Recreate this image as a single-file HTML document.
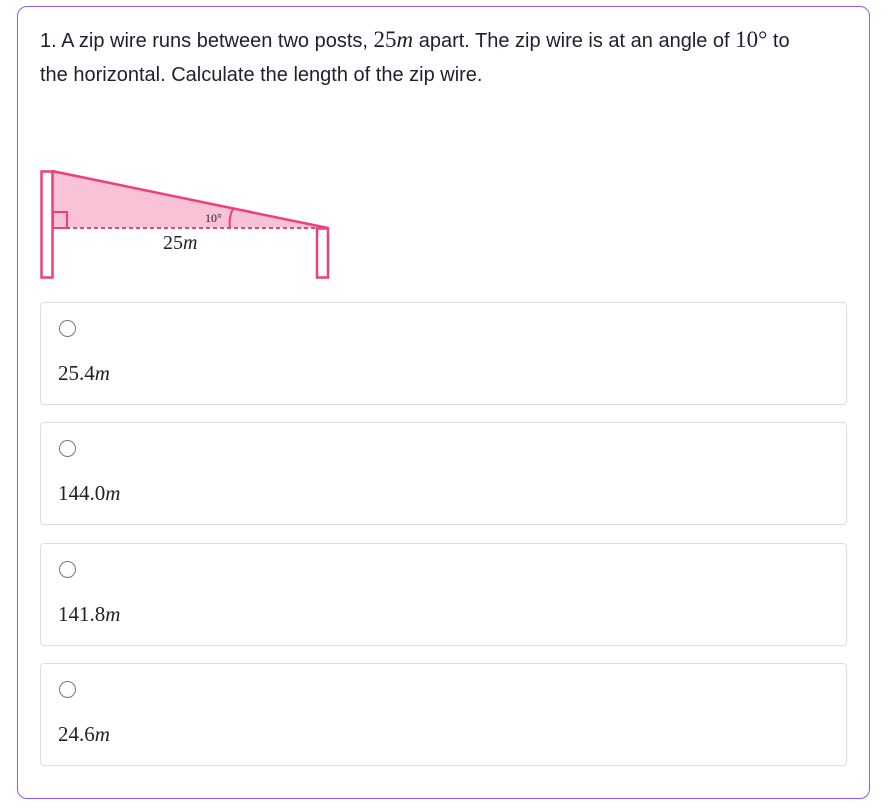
<!DOCTYPE html>
<html><head><meta charset="utf-8"><style>
body{margin:0;background:#fff;font-family:"Liberation Sans",sans-serif;}
.card{position:absolute;left:17px;top:6px;width:853px;height:793px;border:1px solid #8b5cf6;border-radius:10px;box-sizing:border-box;}
.q{position:absolute;left:40px;top:23px;width:770px;font-size:20px;line-height:34px;color:#1f1f2e;}
.m{font-family:"Liberation Serif",serif;font-size:23px;}
.opt{position:absolute;left:40px;width:807px;height:103px;border:1px solid #dedede;border-radius:4px;box-sizing:border-box;}
.radio{position:absolute;left:18px;top:17px;width:15px;height:15px;border:1.5px solid #777;border-radius:50%;}
.val{position:absolute;left:17px;top:58px;font-family:"Liberation Serif",serif;font-size:21px;color:#222;}
</style></head><body>
<div class="card"></div>
<div class="q">1. A zip wire runs between two posts, <span class="m">25<i>m</i></span> apart. The zip wire is at an angle of <span class="m">10°</span> to the horizontal. Calculate the length of the zip wire.</div>
<svg width="889" height="811" style="position:absolute;left:0;top:0">
<polygon points="52,171 328,228 52,228" fill="#f9c2d6"/>
<rect x="41.5" y="171.5" width="11" height="106" fill="#fff" stroke="#ec407a" stroke-width="2.5"/>
<rect x="317" y="228.5" width="11" height="49" fill="#fff" stroke="#ec407a" stroke-width="2.5"/>
<line x1="52" y1="171" x2="328" y2="228" stroke="#ec407a" stroke-width="2.5"/>
<line x1="52" y1="228" x2="317" y2="228" stroke="#ec407a" stroke-width="2" stroke-dasharray="4,3"/>
<rect x="53" y="212" width="14" height="16" fill="none" stroke="#ec407a" stroke-width="2"/>
<path d="M230,228 A10 18 0 0 1 234,208" fill="none" stroke="#ec407a" stroke-width="2"/>
<text x="205" y="222" font-family="Liberation Serif" font-size="12" fill="#222">10°</text>
<text x="163" y="249" font-family="Liberation Serif" font-size="20" fill="#222">25<tspan font-style="italic">m</tspan></text>
</svg>
<div class="opt" style="top:302px"><div class="radio"></div><div class="val">25.4<i>m</i></div></div>
<div class="opt" style="top:422px"><div class="radio"></div><div class="val">144.0<i>m</i></div></div>
<div class="opt" style="top:543px"><div class="radio"></div><div class="val">141.8<i>m</i></div></div>
<div class="opt" style="top:663px"><div class="radio"></div><div class="val">24.6<i>m</i></div></div>
</body></html>
